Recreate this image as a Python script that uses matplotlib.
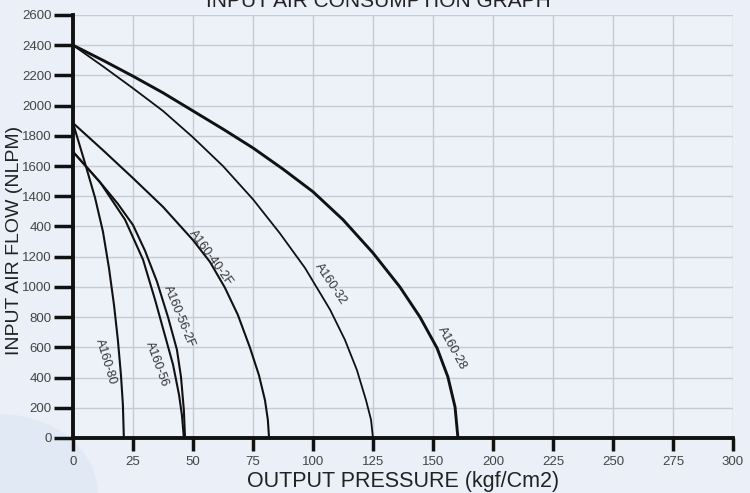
"""Input air consumption graph for the A160 booster family."""

import matplotlib

matplotlib.use("Agg")

import matplotlib.pyplot as plt  # noqa: E402
from matplotlib.patches import Ellipse  # noqa: E402

# Axis ticks as printed on the original sheet (its labels skip 175 and repeat 400).
x_ticks = [0, 25, 50, 75, 100, 125, 150, 175, 200, 225, 250, 275]
x_tick_labels = ["0", "25", "50", "75", "100", "125", "150", "200", "225", "250", "275", "300"]
y_ticks = [0, 200, 400, 600, 800, 1000, 1200, 1400, 1600, 1800, 2000, 2200, 2400, 2600, 2800]
y_tick_labels = ["0", "200", "400", "600", "800", "1000", "1200", "400",
                 "1400", "1600", "1800", "2000", "2200", "2400", "2600"]

# Curves in grid units.
pressure_28 = [0, 12.5, 25, 37.5, 50, 62.5, 75, 87.5, 100, 112.5, 125,
               136.2, 144.6, 151.7, 156.2, 159.2, 160.4]
flow_28 = [2600, 2500, 2395, 2285, 2165, 2045, 1920, 1780, 1630, 1445, 1225,
           1000, 800, 595, 405, 205, 0]

pressure_32 = [0, 12.5, 25, 37.5, 50, 62.5, 75, 86.2, 96.7, 107.1, 113.3,
               118.3, 122.1, 124.2, 125]
flow_32 = [2600, 2460, 2315, 2165, 1990, 1800, 1580, 1355, 1125, 850, 650,
           450, 250, 120, 0]

pressure_40_2f = [0, 12.5, 25, 37.5, 50, 57.1, 63.3, 68.7, 73.7, 77.5, 80, 81.2, 81.7]
flow_40_2f = [2085, 1905, 1720, 1530, 1310, 1165, 995, 815, 600, 415, 250, 120, 0]

pressure_56_2f = [0, 12.5, 18.7, 25, 30, 35, 39.6, 43.3, 45, 46.2, 46.7]
flow_56_2f = [1895, 1670, 1550, 1410, 1240, 1035, 800, 585, 405, 185, 0]

pressure_56 = [0, 11.2, 21.7, 29.2, 34.2, 38.3, 41.7, 44.2, 45.4, 46.2]
flow_56 = [1895, 1695, 1445, 1180, 915, 680, 485, 285, 150, 0]

pressure_80 = [0, 5, 9.2, 12.5, 15, 17.1, 18.7, 20, 20.8, 21.2]
flow_80 = [2085, 1820, 1590, 1365, 1125, 880, 650, 415, 220, 0]

curves = [
    ("A160-28", pressure_28, flow_28, 2.1, (157.9, 596), -61),
    ("A160-32", pressure_32, flow_32, 1.3, (107.5, 1019), -56),
    ("A160-40-2F", pressure_40_2f, flow_40_2f, 1.5, (57.5, 1191), -54),
    ("A160-56-2F", pressure_56_2f, flow_56_2f, 1.5, (44.2, 808), -68),
    ("A160-56", pressure_56, flow_56, 1.5, (35, 490), -70),
    ("A160-80", pressure_80, flow_80, 1.5, (13.75, 505), -73),
]

plt.rcParams["font.family"] = ["Liberation Sans", "DejaVu Sans"]

background = "#ebf0f8"
fig = plt.figure(figsize=(7.5, 4.93), dpi=100, facecolor=background)
fig.patches.append(Ellipse((0.0, 0.0), 0.26, 0.32, transform=fig.transFigure,
                           facecolor="#e0e9f4", edgecolor="none", zorder=-1))

ax = fig.add_axes([0.0973, 0.1116, 0.88, 0.858])
ax.set_facecolor("#edf1f8")

for name, xs, ys, width, label_pos, angle in curves:
    ax.plot(xs, ys, color="#111111", linewidth=width, solid_capstyle="round", zorder=3)
    ax.text(label_pos[0], label_pos[1], name, rotation=angle, rotation_mode="anchor",
            ha="center", va="center", fontsize=9, color="#333333", zorder=4)

ax.set_xlim(0, 275)
ax.set_ylim(0, 2800)
ax.set_xticks(x_ticks)
ax.set_xticklabels(x_tick_labels)
ax.set_yticks(y_ticks)
ax.set_yticklabels(y_tick_labels)
ax.tick_params(axis="both", width=2.5, color="#111111", labelsize=9.5, labelcolor="#444444")
ax.tick_params(axis="x", length=9, pad=4)
ax.tick_params(axis="y", length=14, pad=1.5)
ax.grid(True, color="#c6cad2", linewidth=1.0, zorder=0)
ax.set_axisbelow(True)

for side in ("top", "right"):
    ax.spines[side].set_visible(False)
for side in ("left", "bottom"):
    ax.spines[side].set_linewidth(2.8)
    ax.spines[side].set_color("#111111")
    ax.spines[side].set_zorder(5)

ax.set_xlabel("OUTPUT PRESSURE (kgf/Cm2)", fontsize=15.5, color="#222222", labelpad=2)
ax.set_ylabel("INPUT AIR FLOW (NLPM)", fontsize=14, color="#222222")
ax.yaxis.set_label_coords(-0.076, 0.468)

fig.text(0.505, 0.978, "INPUT AIR CONSUMPTION GRAPH", ha="center", va="bottom",
         fontsize=15, color="#222222")

fig.savefig("out.png", dpi=100, facecolor=background)
